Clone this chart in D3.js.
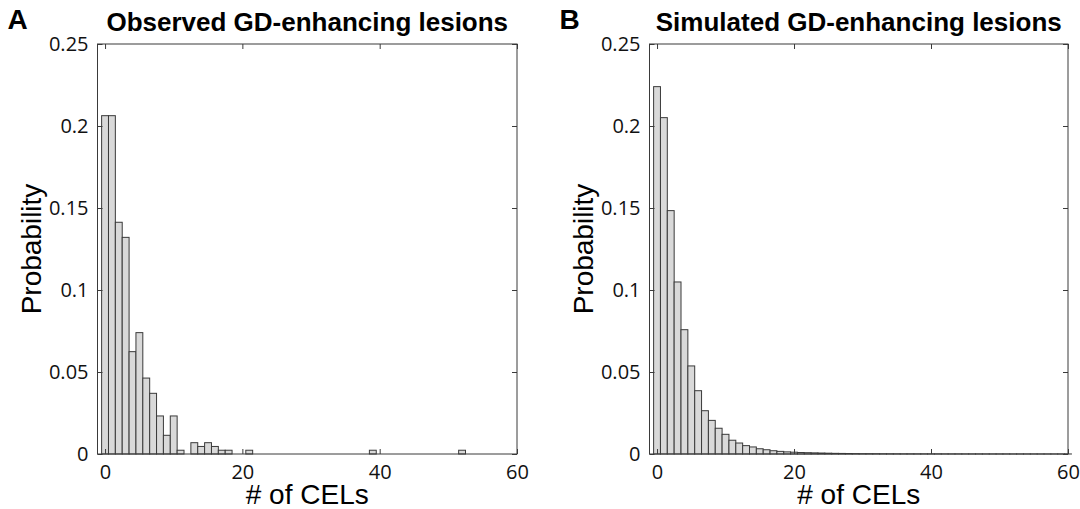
<!DOCTYPE html>
<html>
<head>
<meta charset="utf-8">
<script src="https://cdn.jsdelivr.net/npm/d3@7"></script>
<style>
  body { margin: 0; background: #fff; }
  svg { display: block; }
</style>
</head>
<body>
<svg id="chart"></svg>
<script>
// observed histogram (bins with nonzero probability)
var obsBins = [0, 1, 2, 3, 4, 5, 6, 7, 8, 9, 10, 11, 13, 14, 15, 16, 17, 18, 21, 39, 52]
var obsProb = [0.2063, 0.2063, 0.1413, 0.1321, 0.0624, 0.0740, 0.0463, 0.0370, 0.0232, 0.0114,
               0.0232, 0.0023, 0.0069, 0.0046, 0.0069, 0.0046, 0.0023, 0.0023, 0.0023, 0.0023, 0.0023]

// simulated histogram, bins 0..60
var simBins = d3.range(0, 61)
var simProb = [0.2240, 0.2051, 0.1484, 0.1049, 0.0758, 0.0537, 0.0386, 0.0264, 0.0205, 0.0157,
               0.0120, 0.0084, 0.0067, 0.0051, 0.0043, 0.0032, 0.0026, 0.0020, 0.0016, 0.0013,
               0.0011, 0.0009, 0.0008, 0.0007, 0.0006, 0.0005, 0.0004, 0.00035, 0.0003, 0.00025,
               0.0002, 0.0002, 0.00018, 0.00015, 0.00013, 0.00012, 0.0001, 0.0001, 0.00009, 0.00009,
               0.00008, 0.00008, 0.00007, 0.00007, 0.00007, 0.00006, 0.00006, 0.00006, 0.00005, 0.00005,
               0.00005, 0.00005, 0.00004, 0.00004, 0.00004, 0.00004, 0.00003, 0.00003, 0.00003, 0.00003, 0.00003]

var xTicks = [0, 20, 40, 60]
var yTicks = [0, 0.05, 0.1, 0.15, 0.2, 0.25]

var panels = [
  {letter: "A", title: "Observed GD-enhancing lesions", bins: obsBins, prob: obsProb, left: 97.5, right: 517},
  {letter: "B", title: "Simulated GD-enhancing lesions", bins: simBins, prob: simProb, left: 649.5, right: 1068}
]

var dimensions = {
  width: 1080,
  height: 509,
  top: 44,
  bottom: 454
}

var svg = d3.select("#chart")
            .attr("width", dimensions.width)
            .attr("height", dimensions.height)

panels.forEach(function(p){

  var xScale = d3.scaleLinear()
                 .domain([-1.1, 60])
                 .range([p.left, p.right])

  var yScale = d3.scaleLinear()
                 .domain([0, 0.25])
                 .range([dimensions.bottom, dimensions.top])

  var g = svg.append("g")

  // bars
  g.selectAll("rect.bar")
   .data(p.bins)
   .enter()
   .append("rect")
   .attr("class", "bar")
   .attr("x", d => xScale(d - 0.5))
   .attr("width", d => xScale(d + 0.5) - xScale(d - 0.5))
   .attr("y", (d, i) => yScale(p.prob[i]))
   .attr("height", (d, i) => yScale(0) - yScale(p.prob[i]))
   .attr("fill", "#d9d9d9")
   .attr("stroke", "#3a3a3a")
   .attr("stroke-width", 1)

  var fmt = d => String(+d.toFixed(2))

  var yAxis = g.append("g")
               .attr("transform", `translate(${p.left},0)`)
               .call(d3.axisLeft(yScale).tickValues(yTicks).tickFormat(fmt)
                       .tickSizeInner(-5).tickSizeOuter(0).tickPadding(9))
  var xAxis = g.append("g")
               .attr("transform", `translate(0,${dimensions.bottom})`)
               .call(d3.axisBottom(xScale).tickValues(xTicks)
                       .tickSizeInner(-5).tickSizeOuter(0).tickPadding(11))
  g.append("g")
   .attr("transform", `translate(0,${dimensions.top})`)
   .call(d3.axisTop(xScale).tickValues(xTicks).tickFormat("")
           .tickSizeInner(-5).tickSizeOuter(0))
  g.append("g")
   .attr("transform", `translate(${p.right},0)`)
   .call(d3.axisRight(yScale).tickValues(yTicks).tickFormat("")
           .tickSizeInner(-5).tickSizeOuter(0))

  g.selectAll(".domain").remove()
  g.selectAll(".tick line").attr("stroke", "#3a3a3a")
  g.selectAll(".tick text")
   .style("font-family", "'Open Sans', sans-serif")
   .style("font-size", "20px")
   .attr("fill", "#111")

  // frame
  g.append("rect")
   .attr("x", p.left)
   .attr("y", dimensions.top)
   .attr("width", p.right - p.left)
   .attr("height", dimensions.bottom - dimensions.top)
   .attr("fill", "none")
   .attr("stroke", "#3a3a3a")
   .attr("stroke-width", 1)

  // labels
  g.append("text")
   .attr("x", (p.left + p.right) / 2)
   .attr("y", 31)
   .attr("text-anchor", "middle")
   .style("font-family", "'Liberation Sans', Arial, sans-serif")
   .style("font-weight", "bold")
   .style("font-size", "26px")
   .text(p.title)

  g.append("text")
   .attr("x", p.left - 90)
   .attr("y", 29)
   .style("font-family", "'Liberation Sans', Arial, sans-serif")
   .style("font-weight", "bold")
   .style("font-size", "28px")
   .text(p.letter)

  g.append("text")
   .attr("x", (p.left + p.right) / 2)
   .attr("y", 504)
   .attr("text-anchor", "middle")
   .style("font-family", "'Liberation Sans', Arial, sans-serif")
   .style("font-size", "28px")
   .text("# of CELs")

  g.append("text")
   .attr("transform", `translate(${p.left - 57},${(dimensions.top + dimensions.bottom) / 2}) rotate(-90)`)
   .attr("text-anchor", "middle")
   .style("font-family", "'Liberation Sans', Arial, sans-serif")
   .style("font-size", "28px")
   .text("Probability")
})
</script>
</body>
</html>
